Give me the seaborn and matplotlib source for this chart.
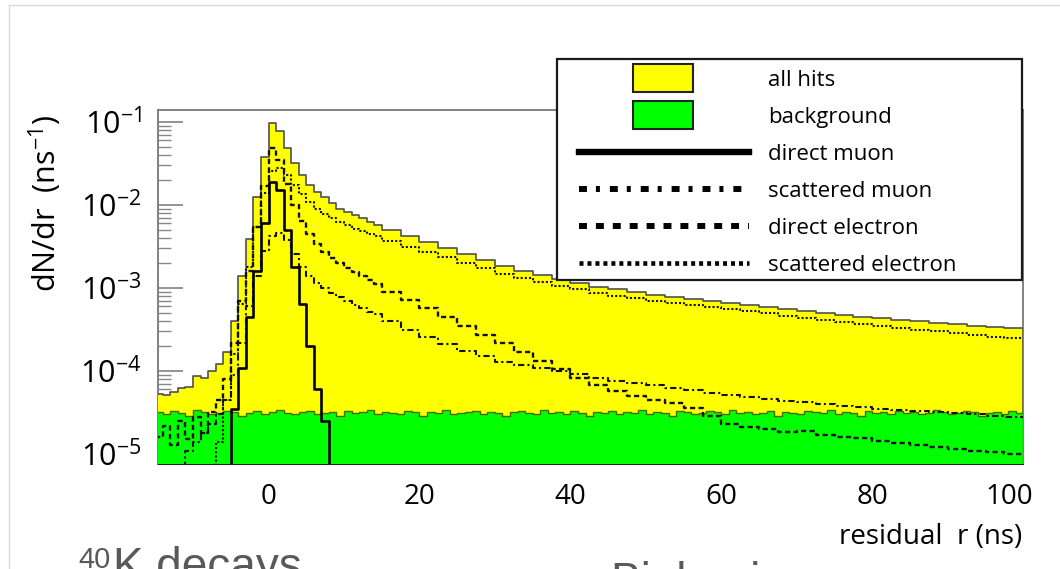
import numpy as np
import seaborn as sns
import matplotlib.pyplot as plt
import matplotlib.transforms as mtransforms
from matplotlib.patches import Patch, Rectangle
from matplotlib.lines import Line2D
from matplotlib.legend_handler import HandlerPatch
from matplotlib.font_manager import FontProperties

###FONTS###
plt.rcParams['font.family'] = ['Open Sans', 'DejaVu Sans']
plt.rcParams['mathtext.fontset'] = 'custom'
plt.rcParams['mathtext.rm'] = 'Open Sans'

###DATA###
# bins: 1 ns from -15 to 15, then 2.5 ns up to 100
peak_edges = np.arange(-15, 16, 1)
tail_edges = np.arange(15, 100.1, 2.5)
bg_edges = np.arange(-15, 101, 1)

all_hits_peak = [5.3e-5, 5.1e-5, 5.6e-5, 6.2e-5, 6.4e-5, 8.6e-5, 8.2e-5, 1.0e-4, 1.2e-4, 1.7e-4,
                 4.0e-4, 1.4e-3, 3.9e-3, 1.25e-2, 3.8e-2, 9.6e-2, 7.8e-2, 4.9e-2, 3.2e-2, 2.3e-2,
                 1.75e-2, 1.45e-2, 1.25e-2, 1.05e-2, 9.0e-3, 8.2e-3, 7.5e-3, 6.9e-3, 6.3e-3, 5.8e-3]
all_hits_tail = [5.0e-3, 4.2e-3, 3.55e-3, 3.05e-3, 2.6e-3, 2.2e-3, 1.85e-3, 1.62e-3, 1.42e-3, 1.27e-3,
                 1.14e-3, 1.04e-3, 9.6e-4, 8.9e-4, 8.3e-4, 7.8e-4, 7.35e-4, 6.95e-4, 6.6e-4, 6.25e-4,
                 5.9e-4, 5.6e-4, 5.3e-4, 5.0e-4, 4.75e-4, 4.5e-4, 4.3e-4, 4.1e-4, 3.95e-4, 3.8e-4,
                 3.65e-4, 3.5e-4, 3.4e-4, 3.3e-4]

background = [3.2e-5, 3.0e-5, 3.3e-5, 3.1e-5, 2.9e-5, 3.4e-5, 3.2e-5, 3.0e-5, 3.1e-5, 3.3e-5,
              3.2e-5, 2.9e-5, 3.1e-5, 3.3e-5, 3.0e-5, 3.2e-5, 3.4e-5, 3.1e-5, 3.0e-5, 3.2e-5,
              3.3e-5, 3.0e-5, 3.1e-5, 3.2e-5, 2.9e-5, 3.3e-5, 3.1e-5, 3.2e-5, 3.4e-5, 3.0e-5,
              3.2e-5, 3.1e-5, 3.0e-5, 3.3e-5, 3.2e-5, 2.9e-5, 3.2e-5, 3.1e-5, 3.4e-5, 3.0e-5,
              3.1e-5, 3.2e-5, 3.3e-5, 3.0e-5, 3.2e-5, 3.1e-5, 2.9e-5, 3.2e-5, 3.3e-5, 3.1e-5,
              3.0e-5, 3.4e-5, 3.1e-5, 3.2e-5, 3.0e-5, 3.3e-5, 3.1e-5, 2.9e-5, 3.2e-5, 3.1e-5,
              3.3e-5, 3.0e-5, 3.2e-5, 3.1e-5, 3.4e-5, 3.0e-5, 3.2e-5, 3.1e-5, 2.9e-5, 3.3e-5,
              3.2e-5, 3.0e-5, 3.1e-5, 3.3e-5, 3.2e-5, 3.0e-5, 3.4e-5, 3.1e-5, 3.2e-5, 3.0e-5,
              3.1e-5, 3.3e-5, 2.9e-5, 3.2e-5, 3.1e-5, 3.0e-5, 3.3e-5, 3.2e-5, 3.1e-5, 3.4e-5,
              3.0e-5, 3.2e-5, 3.1e-5, 2.9e-5, 3.3e-5, 3.1e-5, 3.2e-5, 3.0e-5, 3.3e-5, 3.1e-5,
              3.2e-5, 3.0e-5, 3.1e-5, 3.4e-5, 3.2e-5, 3.0e-5, 3.1e-5, 3.3e-5, 3.2e-5, 2.9e-5,
              3.1e-5, 3.2e-5, 3.0e-5, 3.3e-5, 3.1e-5]

direct_muon_peak = [0, 0, 0, 0, 0, 0, 0, 0, 0, 0,
                    3.5e-5, 1.1e-4, 4.5e-4, 1.6e-3, 6.0e-3, 1.9e-2, 1.5e-2, 5.0e-3, 1.8e-3, 6.5e-4,
                    2.0e-4, 6.0e-5, 2.5e-5, 0, 0, 0, 0, 0, 0, 0]

scattered_muon_peak = [0, 0, 0, 0, 1.1e-5, 1.4e-5, 1.8e-5, 2.3e-5, 3.0e-5, 4.5e-5,
                       9.0e-5, 2.2e-4, 6.0e-4, 1.4e-3, 2.8e-3, 4.2e-3, 4.6e-3, 3.8e-3, 2.6e-3, 1.8e-3,
                       1.4e-3, 1.15e-3, 1.0e-3, 8.8e-4, 7.8e-4, 7.0e-4, 6.3e-4, 5.7e-4, 5.2e-4, 4.8e-4]
scattered_muon_tail = [4.0e-4, 3.15e-4, 2.55e-4, 2.1e-4, 1.75e-4, 1.5e-4, 1.3e-4, 1.18e-4, 1.1e-4, 1.0e-4,
                       9.2e-5, 8.3e-5, 7.6e-5, 7.1e-5, 6.7e-5, 6.3e-5, 5.9e-5, 5.5e-5, 5.2e-5, 4.9e-5,
                       4.6e-5, 4.4e-5, 4.2e-5, 4.0e-5, 3.8e-5, 3.65e-5, 3.5e-5, 3.4e-5, 3.3e-5, 3.2e-5,
                       3.1e-5, 3.0e-5, 2.9e-5, 2.8e-5]

direct_electron_peak = [1.6e-5, 2.2e-5, 1.3e-5, 2.5e-5, 1.5e-5, 2.8e-5, 1.8e-5, 3.2e-5, 4.5e-5, 8.0e-5,
                        2.2e-4, 7.0e-4, 1.6e-3, 5.5e-3, 1.7e-2, 4.8e-2, 3.5e-2, 1.8e-2, 1.0e-2, 6.5e-3,
                        4.5e-3, 3.4e-3, 2.7e-3, 2.3e-3, 2.0e-3, 1.75e-3, 1.55e-3, 1.4e-3, 1.25e-3, 1.12e-3]
direct_electron_tail = [9.0e-4, 7.2e-4, 5.7e-4, 4.5e-4, 3.5e-4, 2.75e-4, 2.15e-4, 1.7e-4, 1.32e-4, 1.05e-4,
                        8.3e-5, 6.8e-5, 5.8e-5, 5.0e-5, 4.5e-5, 4.1e-5, 3.6e-5, 2.9e-5, 2.3e-5, 2.1e-5,
                        2.0e-5, 1.85e-5, 1.9e-5, 1.7e-5, 1.6e-5, 1.55e-5, 1.45e-5, 1.35e-5, 1.3e-5, 1.2e-5,
                        1.15e-5, 1.1e-5, 1.05e-5, 1.0e-5]

scattered_electron_peak = [0, 0, 0, 0, 0, 0, 0, 0, 1.4e-5, 4.5e-5,
                           1.6e-4, 6.5e-4, 1.8e-3, 5.5e-3, 1.4e-2, 2.6e-2, 2.8e-2, 2.3e-2, 1.75e-2, 1.35e-2,
                           1.08e-2, 9.0e-3, 7.8e-3, 6.9e-3, 6.2e-3, 5.7e-3, 5.2e-3, 4.8e-3, 4.5e-3, 4.2e-3]
scattered_electron_tail = [3.7e-3, 3.1e-3, 2.7e-3, 2.35e-3, 2.0e-3, 1.72e-3, 1.48e-3, 1.32e-3, 1.17e-3, 1.05e-3,
                           9.6e-4, 8.8e-4, 8.1e-4, 7.5e-4, 7.0e-4, 6.6e-4, 6.2e-4, 5.9e-4, 5.6e-4, 5.25e-4,
                           4.95e-4, 4.65e-4, 4.4e-4, 4.15e-4, 3.9e-4, 3.7e-4, 3.5e-4, 3.3e-4, 3.15e-4, 3.0e-4,
                           2.85e-4, 2.7e-4, 2.6e-4, 2.5e-4]

legend_labels = ['all hits', 'background', 'direct muon', 'scattered muon',
                 'direct electron', 'scattered electron']
yticks = [1e-5, 1e-4, 1e-3, 1e-2, 1e-1]
ytick_labels = [r'$\mathregular{10^{-5}}$', r'$\mathregular{10^{-4}}$', r'$\mathregular{10^{-3}}$',
                r'$\mathregular{10^{-2}}$', r'$\mathregular{10^{-1}}$']
xticks = [0, 20, 40, 60, 80, 100]


###SETUP###
full_edges = np.concatenate([peak_edges, tail_edges[1:]])

W, H = 1060, 569
fig = plt.figure(figsize=(W / 100, H / 100), dpi=100)
ax = fig.add_axes([158.3 / W, 1 - 464 / H, 865 / W, 354 / H])


def hist(vals, edges, **kw):
    edges = np.asarray(edges, float)
    centers = (edges[:-1] + edges[1:]) / 2
    # bins as a list: seaborn compares bins to "auto"
    sns.histplot(x=centers, weights=vals, bins=edges.tolist(), element='step', ax=ax, **kw)


hist(all_hits_peak + all_hits_tail, full_edges, fill=True, color='#ffff00', alpha=1,
     edgecolor='#505050', linewidth=1.2, zorder=3)
hist(background, bg_edges, fill=True, color='#00ff00', alpha=1,
     edgecolor='#4a6a10', linewidth=1.0, zorder=3.1)
hist(scattered_electron_peak + scattered_electron_tail, full_edges, fill=False, color='#111111',
     linewidth=1.5, dashes=(1, 1), zorder=4)
hist(direct_electron_peak + direct_electron_tail, full_edges, fill=False, color='#111111',
     linewidth=1.7, dashes=(2.2, 1.4), zorder=4)
hist(scattered_muon_peak + scattered_muon_tail, full_edges, fill=False, color='#111111',
     linewidth=1.5, dashes=(3, 1.5, 1, 1.5), zorder=4)
hist(direct_muon_peak, peak_edges, fill=False, color='#000000', linewidth=1.9, zorder=4.2)

ax.set_yscale('log')
ax.set_xlim(-14.6, 100)
ax.set_ylim(10 ** -5.12, 10 ** -0.856)
ax.set_xlabel('')
ax.set_ylabel('')
ax.grid(False)
ax.set_facecolor('white')

for side in ['left', 'top', 'right']:
    ax.spines[side].set_color('#777777')
    ax.spines[side].set_linewidth(1.3)
ax.spines['bottom'].set_color('#222222')

ax.set_yticks(yticks)
ax.set_yticklabels(ytick_labels)
ax.set_xticks(xticks)
ax.set_xticklabels([str(v) for v in xticks])
ax.tick_params(axis='y', which='major', direction='in', length=18, width=1.1, color='#777777',
               pad=12, labelsize=22)
ax.tick_params(axis='y', which='minor', direction='in', length=9.5, width=1.0, color='#888888')
ax.tick_params(axis='x', which='both', length=0, pad=14, labelsize=20)

# the last label sits a bit inside the frame
last = ax.get_xticklabels()[-1]
last.set_transform(last.get_transform() + mtransforms.ScaledTranslation(-0.14, 0, fig.dpi_scale_trans))

fig.text(45 / W, 1 - 115 / H, r'dN/dr  (ns$^{\mathregular{-1}}$)', rotation=90,
         ha='center', va='top', fontsize=22)
fig.text(1022 / W, 1 - 537 / H, 'residual  r (ns)', ha='right', va='center', fontsize=20)

###LEGEND###
fig.add_artist(Rectangle((557 / W, 1 - 280 / H), 465 / W, 221 / H, transform=fig.transFigure,
                         facecolor='white', edgecolor='#1a1a1a', linewidth=1.6, zorder=4))


def small_box(legend, orig_handle, xdescent, ydescent, width, height, fontsize):
    w = width * 60 / 170
    h = 20
    return Rectangle((-xdescent + width * 54 / 170, -ydescent + height / 2 - h / 2), w, h)


handles = [
    Patch(facecolor='#ffff00', edgecolor='#222222', linewidth=1.5),
    Patch(facecolor='#00ff00', edgecolor='#222222', linewidth=1.5),
    Line2D([], [], color='black', linewidth=4.6),
    Line2D([], [], color='black', linewidth=4.3, dashes=(1.33, 1.5, 0.67, 1.67)),
    Line2D([], [], color='black', linewidth=4.3, dashes=(1.33, 1.5)),
    Line2D([], [], color='black', linewidth=3.3, dashes=(0.87, 0.87)),
]
fig.legend(handles, legend_labels, loc='upper left', bbox_to_anchor=(579 / W, 1 - 70 / H),
           bbox_transform=fig.transFigure, frameon=False, borderpad=0, borderaxespad=0,
           handlelength=7.65, handleheight=0.7, handletextpad=0.85, labelspacing=0.72,
           prop=FontProperties(family=['Open Sans', 'DejaVu Sans'], size=16),
           handler_map={Patch: HandlerPatch(patch_func=small_box)})

###SLIDE BITS###
fig.add_artist(Line2D([9 / W, 9 / W], [0, 1 - 5 / H], transform=fig.transFigure, color='#d8d8d8', lw=1))
fig.add_artist(Line2D([9 / W, 1], [1 - 5 / H, 1 - 5 / H], transform=fig.transFigure, color='#d8d8d8', lw=1))
fig.text(78 / W, 1 - 568 / H, '40', fontsize=21, color='#595959', family='Liberation Sans', va='baseline')
fig.text(113 / W, 1 - 580 / H, 'K decays', fontsize=33, color='#595959', family='Liberation Sans',
         va='baseline')
fig.text(610 / W, 1 - 595 / H, 'Bioluminescence', fontsize=33, color='#595959', family='Liberation Sans',
         va='baseline')

fig.savefig('out.png', dpi=100)
